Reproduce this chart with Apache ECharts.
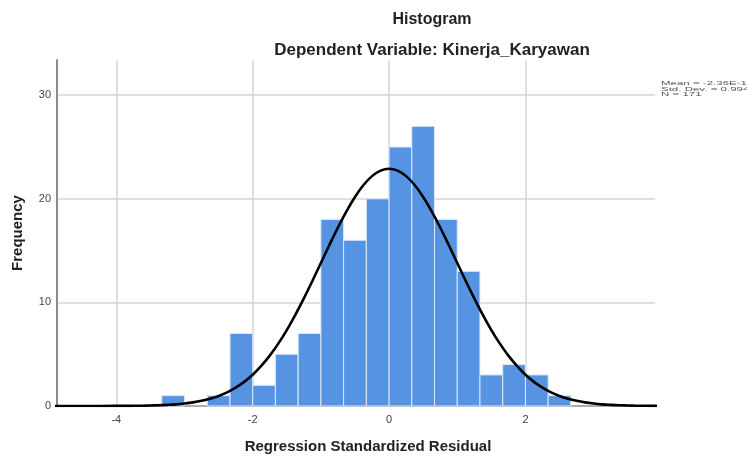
<!DOCTYPE html>
<html>
<head>
<meta charset="utf-8">
<script src="https://cdn.jsdelivr.net/npm/echarts@6/dist/echarts.min.js"></script>
<style>
html,body{margin:0;padding:0;background:#fff;}
#chart{width:747px;height:459px;}
</style>
</head>
<body>
<div id="chart"></div>
<script>
// Histogram bins (lower edges), bin width and frequencies
var binLow = [-3.333, -2.667, -2.333, -2.0, -1.667, -1.333, -1.0, -0.667, -0.333, 0.0, 0.333, 0.667, 1.0, 1.333, 1.667, 2.0, 2.333];
var binWidth = 0.333;
var frequency = [1, 1, 7, 2, 5, 7, 18, 16, 20, 25, 27, 18, 13, 3, 4, 3, 1];

// Normal curve
var curveX = [-5, -4.5, -4, -3.875, -3.75, -3.625, -3.5, -3.375, -3.25, -3.125, -3, -2.875, -2.75, -2.625, -2.5, -2.375, -2.25, -2.125, -2, -1.875, -1.75, -1.625, -1.5, -1.375, -1.25, -1.125, -1, -0.875, -0.75, -0.625, -0.5, -0.375, -0.25, -0.125, 0, 0.125, 0.25, 0.375, 0.5, 0.625, 0.75, 0.875, 1, 1.125, 1.25, 1.375, 1.5, 1.625, 1.75, 1.875, 2, 2.125, 2.25, 2.375, 2.5, 2.625, 2.75, 2.875, 3, 3.125, 3.25, 3.375, 3.5, 3.625, 3.75, 3.875, 4];
var curveY = [0, 0, 0.01, 0.01, 0.02, 0.03, 0.05, 0.07, 0.11, 0.16, 0.24, 0.35, 0.5, 0.7, 0.97, 1.32, 1.77, 2.33, 3.02, 3.87, 4.86, 6.02, 7.33, 8.8, 10.39, 12.07, 13.81, 15.54, 17.23, 18.79, 20.18, 21.33, 22.19, 22.72, 22.9, 22.72, 22.19, 21.33, 20.18, 18.79, 17.23, 15.54, 13.81, 12.07, 10.39, 8.8, 7.33, 6.02, 4.86, 3.87, 3.02, 2.33, 1.77, 1.32, 0.97, 0.7, 0.5, 0.35, 0.24, 0.16, 0.11, 0.07, 0.05, 0.03, 0.02, 0.01, 0.01];

var xTicks = [-4, -2, 0, 2];
var statsText = ['Mean = -2.36E-16', 'Std. Dev. = 0.994', 'N = 171'];
var titleText = 'Histogram';
var subtitleText = 'Dependent Variable: Kinerja_Karyawan';

var chart = echarts.init(document.getElementById('chart'), null, {renderer: 'canvas'});
var font = '"Liberation Sans", Arial, sans-serif';

function statLine(txt, y) {
  return {type: 'text', x: 661, y: y, scaleY: 0.52, style: {text: txt, font: '11.5px ' + font, fill: '#555', textVerticalAlign: 'middle'}};
}

var option = {
  backgroundColor: '#ffffff',
  animation: false,
  textStyle: {fontFamily: font},
  grid: {left: 57, right: 92, top: 60, bottom: 48, containLabel: false},
  graphic: [
    {type: 'text', x: 432, y: 20, style: {text: titleText, font: 'bold 16px ' + font, fill: '#222', textAlign: 'center', textVerticalAlign: 'middle'}},
    {type: 'text', x: 432, y: 50, style: {text: subtitleText, font: 'bold 17px ' + font, fill: '#222', textAlign: 'center', textVerticalAlign: 'middle'}},
    statLine(statsText[0], 83.3),
    statLine(statsText[1], 89),
    statLine(statsText[2], 94.7)
  ],
  xAxis: {
    type: 'value',
    min: -4.87,
    max: 3.9,
    name: 'Regression Standardized Residual',
    nameLocation: 'middle',
    nameGap: 33,
    nameTextStyle: {fontFamily: font, fontWeight: 'bold', fontSize: 15, color: '#222', padding: [0, 0, 0, 24]},
    axisLine: {show: true, onZero: false, lineStyle: {color: '#9a9a9a', width: 1.5}},
    axisTick: {show: false, customValues: xTicks},
    axisLabel: {customValues: xTicks, fontSize: 11, color: '#444', margin: 8, fontFamily: font},
    splitLine: {show: true, lineStyle: {color: '#d6d6d6', width: 1.5}}
  },
  yAxis: {
    type: 'value',
    min: 0,
    max: 33.4,
    interval: 10,
    name: 'Frequency',
    nameLocation: 'middle',
    nameGap: 32,
    nameTextStyle: {fontFamily: font, fontWeight: 'bold', fontSize: 15, color: '#222'},
    axisLine: {show: true, onZero: false, lineStyle: {color: '#8a8a8a', width: 2}},
    axisTick: {show: false},
    axisLabel: {fontSize: 11, color: '#444', margin: 6, fontFamily: font, showMaxLabel: false},
    splitLine: {show: true, showMaxLine: false, lineStyle: {color: '#d6d6d6', width: 1.5}}
  },
  series: [
    {
      type: 'custom',
      renderItem: function (params, api) {
        var x0 = api.value(0), x1 = api.value(1), y = api.value(2);
        var p0 = api.coord([x0, y]);
        var p1 = api.coord([x1, 0]);
        return {
          type: 'rect',
          shape: {x: p0[0], y: p0[1], width: p1[0] - p0[0], height: p1[1] - p0[1]},
          style: {fill: '#5694e3', stroke: '#dde8f7', lineWidth: 1}
        };
      },
      encode: {x: [0, 1], y: 2},
      data: binLow.map(function (l, i) { return [l, l + binWidth, frequency[i]]; }),
      z: 2
    },
    {
      type: 'line',
      data: curveX.map(function (x, i) { return [x, curveY[i]]; }),
      smooth: 0.3,
      showSymbol: false,
      clip: true,
      lineStyle: {color: '#000', width: 2.6},
      z: 3
    }
  ]
};
chart.setOption(option);
</script>
</body>
</html>
